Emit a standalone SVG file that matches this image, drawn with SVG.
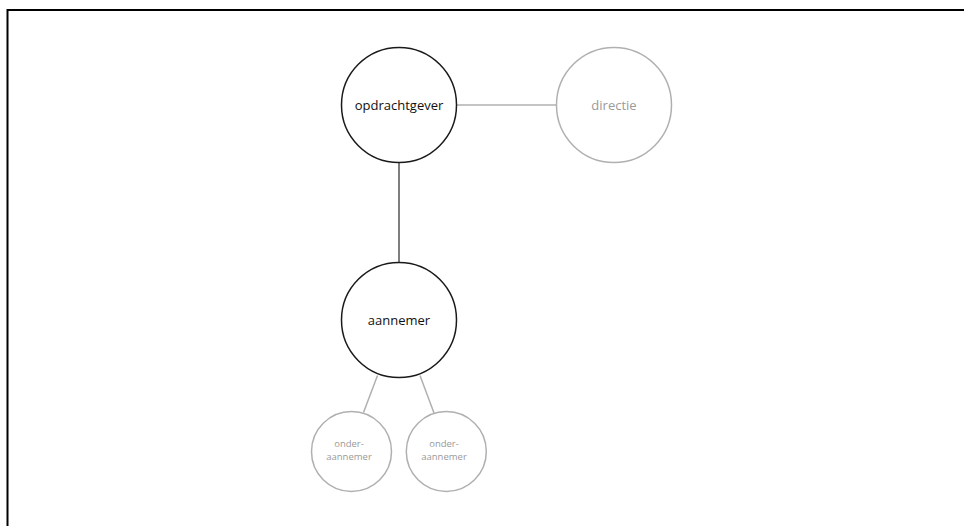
<svg xmlns="http://www.w3.org/2000/svg" width="964" height="526" viewBox="0 0 964 526">
<style>
.frame{stroke:#000;stroke-width:2;fill:none}
.dark{fill:#fff;stroke:#1a1a1a;stroke-width:1.5}
.light{fill:#fff;stroke:#b0b0b0;stroke-width:1.5}
.t{font-family:"Open Sans","Noto Sans",sans-serif;text-anchor:middle}
.td{fill:#111;font-size:13px}
.tl{fill:#9a9a9a;font-size:13px}
.ts{fill:#9a9a9a;font-size:9.5px}
.cd{stroke:#555;stroke-width:1.5}
.cl{stroke:#b0b0b0;stroke-width:1.5}
</style>
<rect width="964" height="526" fill="#fff"/>
<path class="frame" d="M7.5 526 V10 H964"/>
<g id="connectors">
<line class="cl" x1="457" y1="105" x2="557" y2="105"/>
<line class="cd" x1="399" y1="162.5" x2="399" y2="262.5"/>
<line class="cl" x1="377.5" y1="375.5" x2="363.5" y2="412.5"/>
<line class="cl" x1="420" y1="375.5" x2="434" y2="413"/>
</g>
<g id="opdrachtgever">
<circle class="dark" cx="399" cy="105" r="57.5"/>
<text class="t td" x="399" y="110">opdrachtgever</text>
</g>
<g id="directie">
<circle class="light" cx="614" cy="105" r="57.5"/>
<text class="t tl" x="614" y="110">directie</text>
</g>
<g id="aannemer">
<circle class="dark" cx="399" cy="320" r="57.5"/>
<text class="t td" x="399" y="325">aannemer</text>
</g>
<g id="onderaannemer1">
<circle class="light" cx="351.5" cy="451.5" r="40"/>
<text class="t ts" x="349" y="447">onder-</text>
<text class="t ts" x="349" y="459.5">aannemer</text>
</g>
<g id="onderaannemer2">
<circle class="light" cx="446.3" cy="451.5" r="40"/>
<text class="t ts" x="444" y="447">onder-</text>
<text class="t ts" x="444" y="459.5">aannemer</text>
</g>
</svg>
